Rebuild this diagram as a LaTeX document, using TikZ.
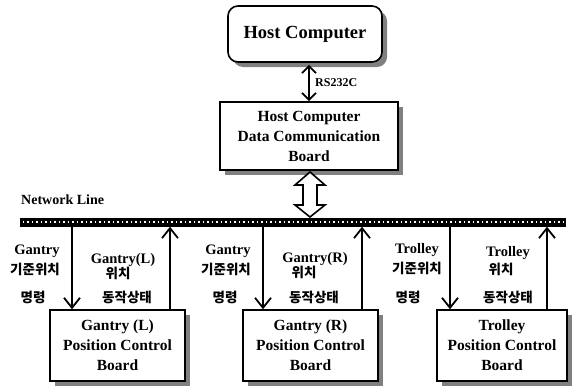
\documentclass[tikz,border=0pt]{standalone}
\usepackage{fontspec}
\setmainfont{Liberation Serif}
\newfontfamily\kr{Noto Sans CJK KR}
\usetikzlibrary{arrows.meta,shadows}

\begin{document}
\begin{tikzpicture}[x=1pt,y=-1pt,
  shade/.style={drop shadow={shadow xshift=5pt,shadow yshift=-5pt,fill=black!50,opacity=1}},
  box/.style={draw,line width=1.6pt,fill=white,align=center,inner sep=0pt,shade,
    font=\bfseries\fontsize{15.5}{20}\selectfont},
  lbl/.style={inner sep=0pt,font=\bfseries\fontsize{14.5}{17}\selectfont},
  kor/.style={inner sep=0pt,font=\kr\bfseries\fontsize{13.5}{15}\selectfont},
  arr/.style={line width=1.8pt,-{Straight Barb[length=10pt,width=16pt,line width=1.8pt]}},
  darr/.style={line width=1.8pt,{Straight Barb[length=7pt,width=14pt,line width=1.8pt]}-{Straight Barb[length=7pt,width=14pt,line width=1.8pt]}},
]
\useasboundingbox (0,0) rectangle (572,388);

% host side
\node[box,rounded corners=10pt,minimum width=154pt,minimum height=56pt,
  font=\bfseries\fontsize{18.5}{22}\selectfont] (host) at (305,34) {Host Computer};
\node[box,minimum width=178pt,minimum height=68pt] (comm) at (309,136)
  {Host Computer\\Data Communication\\Board};
\draw[darr] ([yshift=-2pt]host.south -| comm.north) -- (comm.north);
\node[lbl,anchor=west,font=\bfseries\fontsize{12}{14}\selectfont] (rs) at (315,83) {RS232C};

% network bus
\node[fill=black,minimum width=546pt,minimum height=9pt,inner sep=0pt] (net) at (293,222) {};
\draw[white,line width=1.1pt,dash pattern=on 1.5pt off 3pt] ([xshift=3pt]net.west) -- ([xshift=-3pt]net.east);
\node[lbl,anchor=west,font=\bfseries\fontsize{14}{17}\selectfont] (nlabel) at (21,200) {Network Line};

% hollow two-way link between the board and the bus
\coordinate (ha) at (310,172);
\coordinate (hb) at (310,217);
\draw[line width=1.6pt,fill=white,line join=miter]
  (ha) -- ++(15,13) -- ++(-8,0) -- ++(0,20) -- ++(8,0) -- (hb)
  -- ++(-15,-12) -- ++(8,0) -- ++(0,-20) -- ++(-8,0) -- cycle;

% control boards
\node[box,minimum width=135pt,minimum height=71pt] (bl) at (117.5,345.5)
  {Gantry (L)\\Position Control\\Board};
\node[box,minimum width=135pt,minimum height=71pt] (br) at (310.5,345.5)
  {Gantry (R)\\Position Control\\Board};
\node[box,minimum width=130pt,minimum height=71pt] (bt) at (502,345.5)
  {Trolley\\Position Control\\Board};

% command (down) and status (up) lines
\coordinate (x1) at (72,0);  \coordinate (x2) at (170,0);
\coordinate (x3) at (263,0); \coordinate (x4) at (362,0);
\coordinate (x5) at (450,0); \coordinate (x6) at (547,0);
\draw[arr] (net.south -| x1) -- (bl.north -| x1);
\draw[arr] (bl.north -| x2) -- (net.south -| x2);
\draw[arr] (net.south -| x3) -- (br.north -| x3);
\draw[arr] (br.north -| x4) -- (net.south -| x4);
\draw[arr] (net.south -| x5) -- (bt.north -| x5);
\draw[arr] (bt.north -| x6) -- (net.south -| x6);

% labels, group 1
\node[lbl] (c1a) at (37,251) {Gantry};
\node[kor] (c1b) at (35,269) {기준위치};
\node[kor] (c1c) at (33,297) {명령};
\node[lbl] (s1a) at (123,260) {Gantry(L)};
\node[kor] (s1b) at (118,273) {위치};
\node[kor] (s1c) at (127,297) {동작상태};
% labels, group 2
\node[lbl] (c2a) at (228,251) {Gantry};
\node[kor] (c2b) at (226,269) {기준위치};
\node[kor] (c2c) at (225,297) {명령};
\node[lbl] (s2a) at (315,259) {Gantry(R)};
\node[kor] (s2b) at (304,272) {위치};
\node[kor] (s2c) at (314,297) {동작상태};
% labels, group 3
\node[lbl] (c3a) at (417,250) {Trolley};
\node[kor] (c3b) at (417,268) {기준위치};
\node[kor] (c3c) at (408,297) {명령};
\node[lbl] (s3a) at (508,253) {Trolley};
\node[kor] (s3b) at (501,269) {위치};
\node[kor] (s3c) at (508,297) {동작상태};
\end{tikzpicture}
\end{document}
